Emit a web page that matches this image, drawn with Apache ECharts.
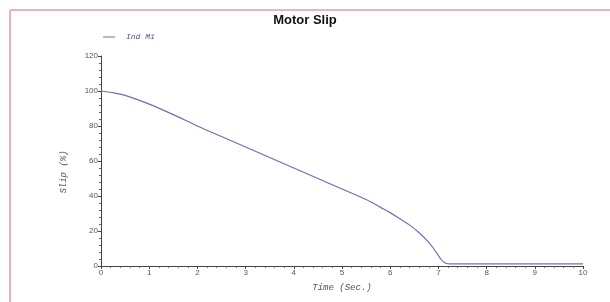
<!DOCTYPE html>
<html>
<head>
<meta charset="utf-8">
<script src="https://cdn.jsdelivr.net/npm/echarts@6/dist/echarts.min.js"></script>
<style>
  html,body{margin:0;padding:0;background:#fff;}
  #chart{width:610px;height:302px;}
</style>
</head>
<body>
<div id="chart"></div>
<script>
// time (s) and slip (%)
var timeSec=[0,0.25,0.5,1,1.5,2,2.5,3,3.5,4,4.5,5,5.5,5.8,6,6.2,6.4,6.6,6.8,6.9,7,7.05,7.1,7.15,7.2,7.3,7.5,8,9,10];
var slipInd=[100,99,97.5,92.5,86.5,80,74,68,62,56,50,44,38,33.5,30.5,27,23.5,19,13.5,10,6,4,2.5,1.6,1.3,1.2,1.2,1.2,1.2,1.2];
var seriesName='Ind M1';

var points=[];
for (var i=0;i<timeSec.length;i++) {
  points.push([timeSec[i],slipInd[i]]);
}

var monoItalic={fontFamily:'Liberation Mono',fontStyle:'italic',fontSize:9,color:'#555'};

var option={
  animation:false,
  backgroundColor:'#fff',
  title:{
    text:'Motor Slip',
    left:'center',
    top:9,
    textStyle:{fontFamily:'Liberation Sans',fontSize:13,fontWeight:'bold',color:'#111'}
  },
  legend:{
    left:98,
    top:28,
    itemWidth:12,
    itemHeight:8,
    itemGap:10,
    icon:'path://M0,4L12,4L12,5L0,5Z',
    data:[seriesName],
    textStyle:{fontFamily:'Liberation Mono',fontStyle:'italic',fontSize:8,color:'#5050a0',padding:[0,0,0,6]}
  },
  grid:{left:101,right:27,top:56,bottom:36},
  xAxis:{
    type:'value',
    min:0,
    max:10,
    interval:1,
    name:'Time (Sec.)',
    nameLocation:'middle',
    nameGap:17,
    nameTextStyle:monoItalic,
    axisLine:{lineStyle:{color:'#444',width:1}},
    axisTick:{length:3,lineStyle:{color:'#444'}},
    minorTick:{show:true,splitNumber:5,length:2,lineStyle:{color:'#666'}},
    axisLabel:{fontFamily:'Liberation Sans',fontSize:8,color:'#555',margin:3},
    splitLine:{show:false}
  },
  yAxis:{
    type:'value',
    min:0,
    max:120,
    interval:20,
    name:'Slip (%)',
    nameLocation:'middle',
    nameGap:33,
    nameTextStyle:Object.assign({},monoItalic,{padding:[0,22,0,0]}),
    axisLine:{show:true,lineStyle:{color:'#444',width:1}},
    axisTick:{show:true,length:3,lineStyle:{color:'#444'}},
    minorTick:{show:true,splitNumber:5,length:2,lineStyle:{color:'#666'}},
    axisLabel:{fontFamily:'Liberation Sans',fontSize:8,color:'#555',margin:3},
    splitLine:{show:false}
  },
  graphic:[
    {type:'line',shape:{x1:10,y1:10,x2:610,y2:10},style:{stroke:'#e8b4c2',lineWidth:2}},
    {type:'line',shape:{x1:10,y1:10,x2:10,y2:302},style:{stroke:'#e8b4c2',lineWidth:2}}
  ],
  series:[
    {
      name:seriesName,
      type:'line',
      data:points,
      smooth:0.3,
      showSymbol:false,
      lineStyle:{color:'#6f6fb0',width:1.2},
      itemStyle:{color:'#6f6fb0'}
    }
  ]
};

var chart=echarts.init(document.getElementById('chart'));
chart.setOption(option);
</script>
</body>
</html>
